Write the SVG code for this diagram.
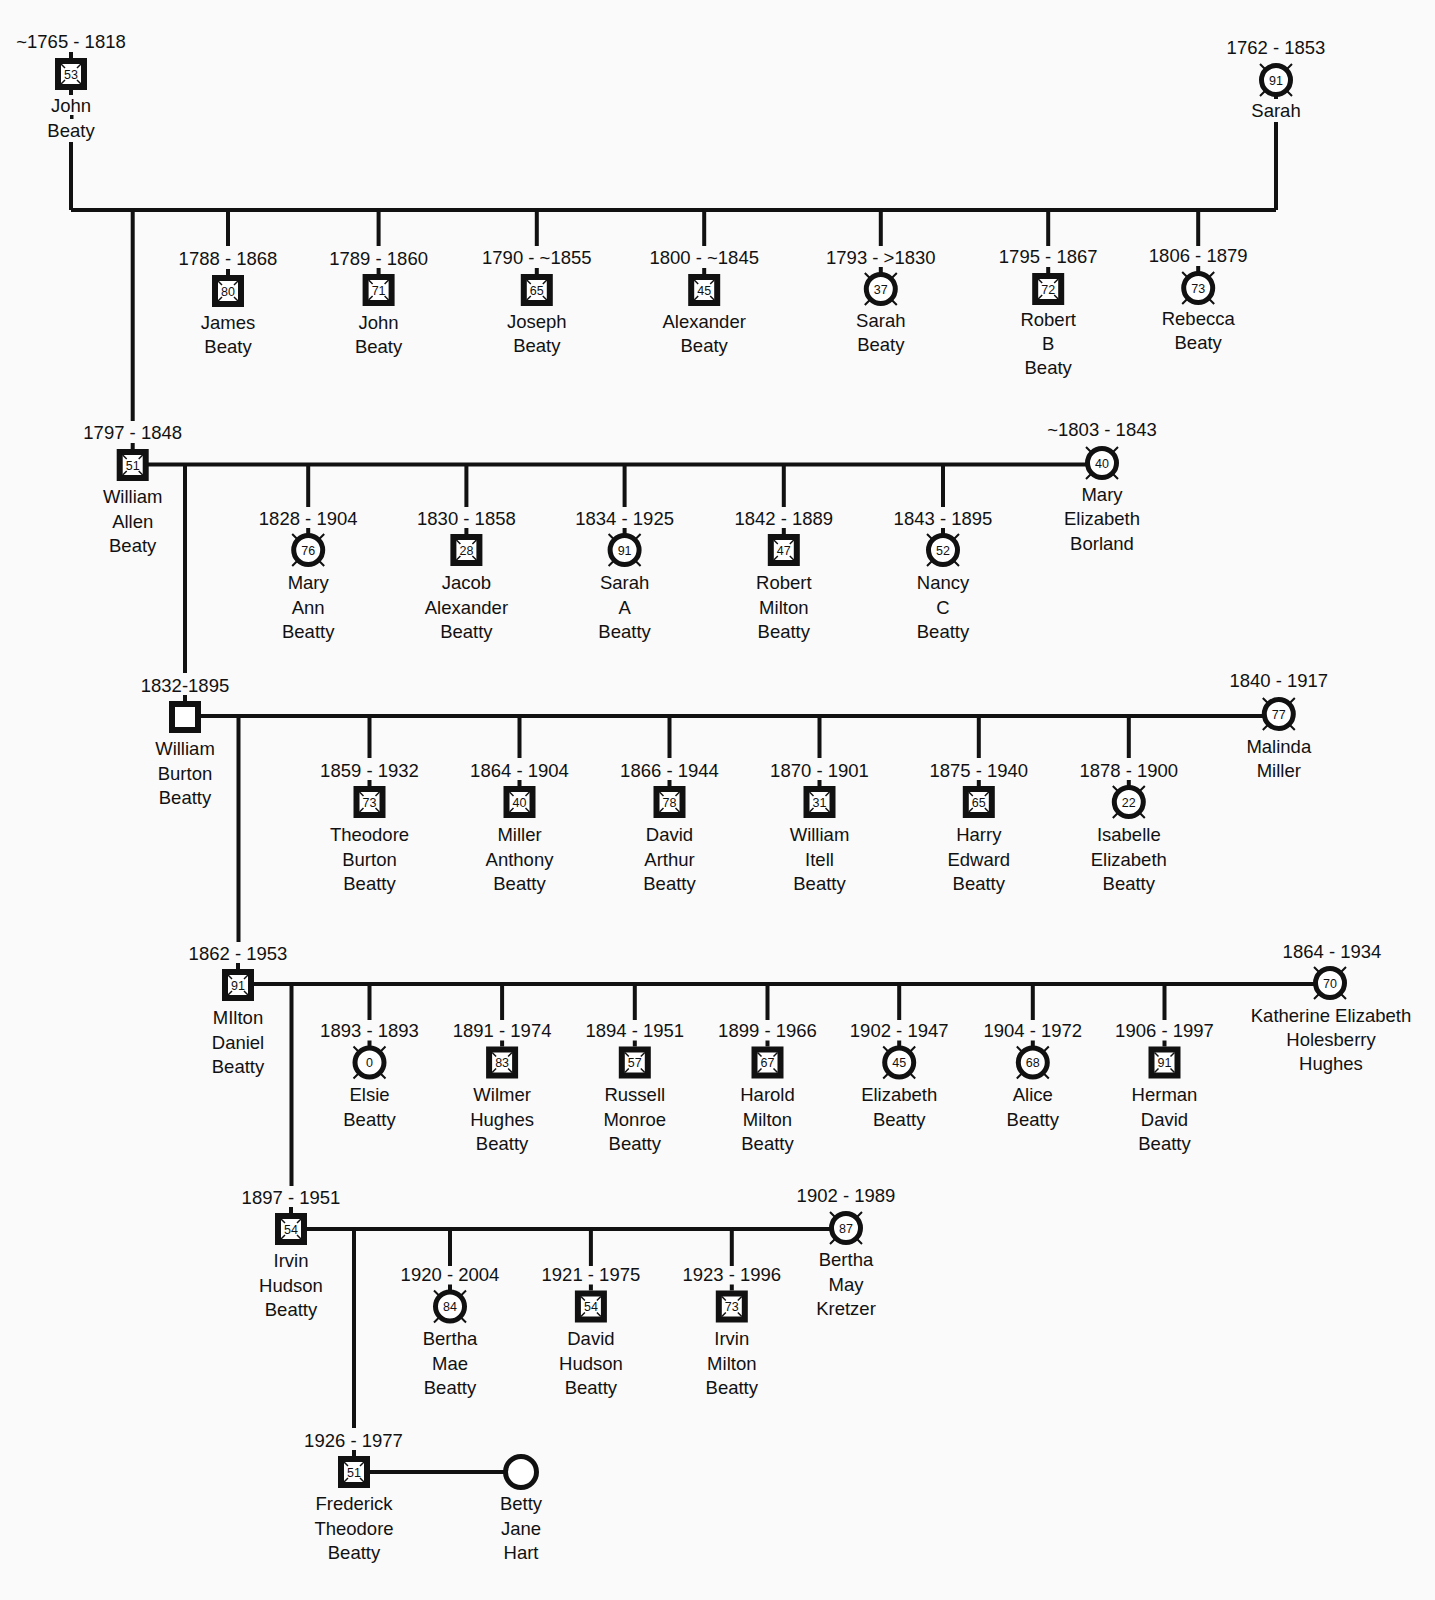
<svg xmlns="http://www.w3.org/2000/svg" xmlns:xlink="http://www.w3.org/1999/xlink" width="1435" height="1600" viewBox="0 0 1435 1600">
<style>
.t{font-family:"Liberation Sans",Arial,sans-serif;font-size:18.5px;text-anchor:middle;fill:#111}
.n{font-family:"Liberation Sans",Arial,sans-serif;font-size:12.5px;text-anchor:middle;fill:#111}
.c{fill:none;stroke:#111;stroke-width:4}
</style>
<defs>
<g id="sq"><rect x="-13" y="-13" width="26" height="26" fill="#fff" stroke="#111" stroke-width="6"/><path d="M-10,-10 l4,4 M10,-10 l-4,4 M-10,10 l4,-4 M10,10 l-4,-4" stroke="#111" stroke-width="1.5"/></g>
<g id="ci"><circle r="14.5" fill="#fff" stroke="#111" stroke-width="5"/><path d="M-16,-16 l7,7 M16,-16 l-7,7 M-16,16 l7,-7 M16,16 l-7,-7" stroke="#111" stroke-width="2"/></g>
<rect id="st" x="-2" y="-22" width="4" height="6" fill="#111"/>
</defs>
<rect width="1435" height="1600" fill="#fafafa"/>
<g id="connectors">
<rect x="70" y="115" width="3.5" height="4" fill="#111"/>
<path class="c" d="M71,142 V210 M71,210 H1276 M1276,122 V210"/>
<path class="c" d="M228,210 V246 M378.6,210 V246 M536.8,210 V246 M704.2,210 V246 M880.8,210 V246 M1048.2,210 V246 M1198.2,210 V246"/>
<path class="c" d="M132.7,210 V421 M132.7,464.5 H1102 M185,464.5 V673"/>
<path class="c" d="M308.2,464.5 V507 M466.4,464.5 V507 M624.6,464.5 V507 M783.8,464.5 V507 M943,464.5 V507"/>
<path class="c" d="M185,716 H1279 M238.5,716 V942"/>
<path class="c" d="M369.5,716 V758 M519.5,716 V758 M669.5,716 V758 M819.5,716 V758 M978.8,716 V758 M1128.8,716 V758"/>
<path class="c" d="M238,984 H1330 M291.5,984 V1186"/>
<path class="c" d="M369.5,984 V1020 M502.1,984 V1020 M634.8,984 V1020 M767.5,984 V1020 M899.2,984 V1020 M1032.8,984 V1020 M1164.5,984 V1020"/>
<path class="c" d="M291,1229 H846 M354,1229 V1428"/>
<path class="c" d="M450,1229 V1266 M590.9,1229 V1266 M731.8,1229 V1266"/>
<path class="c" d="M354,1472 H521"/>
</g>

<g id="john-beaty-1765"><text class="t" x="71" y="48">~1765 - 1818</text><use href="#st" x="71" y="74"/><rect x="69" y="88" width="4" height="7" fill="#111"/><use href="#sq" x="71" y="74"/><text class="n" x="71" y="78.5">53</text><text class="t" x="71" y="112">John</text><text class="t" x="71" y="137">Beaty</text></g>
<g id="sarah-1762"><text class="t" x="1276" y="53.5">1762 - 1853</text><rect x="1274" y="94" width="4" height="5" fill="#111"/><use href="#ci" x="1276" y="80"/><text class="n" x="1276" y="84.5">91</text><text class="t" x="1276" y="117">Sarah</text></g>

<g id="james-beaty"><text class="t" x="228" y="265">1788 - 1868</text><use href="#st" x="228" y="291"/><use href="#sq" x="228" y="291"/><text class="n" x="228" y="295.5">80</text><text class="t" x="228" y="329">James</text><text class="t" x="228" y="353">Beaty</text></g>
<g id="john-beaty"><text class="t" x="378.6" y="265">1789 - 1860</text><use href="#st" x="378.6" y="290"/><use href="#sq" x="378.6" y="290"/><text class="n" x="378.6" y="294.5">71</text><text class="t" x="378.6" y="329">John</text><text class="t" x="378.6" y="353">Beaty</text></g>
<g id="joseph-beaty"><text class="t" x="536.8" y="264">1790 - ~1855</text><use href="#st" x="536.8" y="290"/><use href="#sq" x="536.8" y="290"/><text class="n" x="536.8" y="294.5">65</text><text class="t" x="536.8" y="328">Joseph</text><text class="t" x="536.8" y="352">Beaty</text></g>
<g id="alexander-beaty"><text class="t" x="704.2" y="264">1800 - ~1845</text><use href="#st" x="704.2" y="290"/><use href="#sq" x="704.2" y="290"/><text class="n" x="704.2" y="294.5">45</text><text class="t" x="704.2" y="328">Alexander</text><text class="t" x="704.2" y="352">Beaty</text></g>
<g id="sarah-beaty"><text class="t" x="880.8" y="264">1793 - &gt;1830</text><use href="#st" x="880.8" y="289"/><use href="#ci" x="880.8" y="289"/><text class="n" x="880.8" y="293.5">37</text><text class="t" x="880.8" y="327">Sarah</text><text class="t" x="880.8" y="351">Beaty</text></g>
<g id="robert-b-beaty"><text class="t" x="1048.2" y="263">1795 - 1867</text><use href="#st" x="1048.2" y="289"/><use href="#sq" x="1048.2" y="289"/><text class="n" x="1048.2" y="293.5">72</text><text class="t" x="1048.2" y="326">Robert</text><text class="t" x="1048.2" y="350">B</text><text class="t" x="1048.2" y="374">Beaty</text></g>
<g id="rebecca-beaty"><text class="t" x="1198.2" y="262">1806 - 1879</text><use href="#st" x="1198.2" y="288"/><use href="#ci" x="1198.2" y="288"/><text class="n" x="1198.2" y="292.5">73</text><text class="t" x="1198.2" y="325">Rebecca</text><text class="t" x="1198.2" y="349">Beaty</text></g>

<g id="william-allen-beaty"><text class="t" x="132.7" y="439">1797 - 1848</text><use href="#st" x="132.7" y="465"/><use href="#sq" x="132.7" y="465"/><text class="n" x="132.7" y="469.5">51</text><text class="t" x="132.7" y="503">William</text><text class="t" x="132.7" y="527.5">Allen</text><text class="t" x="132.7" y="552">Beaty</text></g>
<g id="mary-elizabeth-borland"><text class="t" x="1102" y="436">~1803 - 1843</text><use href="#ci" x="1102" y="463"/><text class="n" x="1102" y="467.5">40</text><text class="t" x="1102" y="500.5">Mary</text><text class="t" x="1102" y="525">Elizabeth</text><text class="t" x="1102" y="549.5">Borland</text></g>

<g id="mary-ann-beaty"><text class="t" x="308.2" y="525">1828 - 1904</text><use href="#st" x="308.2" y="550"/><use href="#ci" x="308.2" y="550"/><text class="n" x="308.2" y="554.5">76</text><text class="t" x="308.2" y="589">Mary</text><text class="t" x="308.2" y="613.5">Ann</text><text class="t" x="308.2" y="638">Beatty</text></g>
<g id="jacob-alexander-beaty"><text class="t" x="466.4" y="525">1830 - 1858</text><use href="#st" x="466.4" y="550"/><use href="#sq" x="466.4" y="550"/><text class="n" x="466.4" y="554.5">28</text><text class="t" x="466.4" y="589">Jacob</text><text class="t" x="466.4" y="613.5">Alexander</text><text class="t" x="466.4" y="638">Beatty</text></g>
<g id="sarah-a-beaty"><text class="t" x="624.6" y="525">1834 - 1925</text><use href="#st" x="624.6" y="550"/><use href="#ci" x="624.6" y="550"/><text class="n" x="624.6" y="554.5">91</text><text class="t" x="624.6" y="589">Sarah</text><text class="t" x="624.6" y="613.5">A</text><text class="t" x="624.6" y="638">Beatty</text></g>
<g id="robert-milton-beaty"><text class="t" x="783.8" y="525">1842 - 1889</text><use href="#st" x="783.8" y="550"/><use href="#sq" x="783.8" y="550"/><text class="n" x="783.8" y="554.5">47</text><text class="t" x="783.8" y="589">Robert</text><text class="t" x="783.8" y="613.5">Milton</text><text class="t" x="783.8" y="638">Beatty</text></g>
<g id="nancy-c-beaty"><text class="t" x="943" y="525">1843 - 1895</text><use href="#st" x="943" y="550"/><use href="#ci" x="943" y="550"/><text class="n" x="943" y="554.5">52</text><text class="t" x="943" y="589">Nancy</text><text class="t" x="943" y="613.5">C</text><text class="t" x="943" y="638">Beatty</text></g>

<g id="william-burton-beatty"><text class="t" x="185" y="691.5">1832-1895</text><use href="#st" x="185" y="717"/><rect x="172" y="704" width="26" height="26" fill="#fff" stroke="#111" stroke-width="6"/><text class="t" x="185" y="755">William</text><text class="t" x="185" y="779.5">Burton</text><text class="t" x="185" y="804">Beatty</text></g>
<g id="malinda-miller"><text class="t" x="1278.8" y="687">1840 - 1917</text><use href="#ci" x="1278.8" y="714"/><text class="n" x="1278.8" y="718.5">77</text><text class="t" x="1278.8" y="752.5">Malinda</text><text class="t" x="1278.8" y="777">Miller</text></g>

<g id="theodore-burton-beatty"><text class="t" x="369.5" y="777">1859 - 1932</text><use href="#st" x="369.5" y="802"/><use href="#sq" x="369.5" y="802"/><text class="n" x="369.5" y="806.5">73</text><text class="t" x="369.5" y="841">Theodore</text><text class="t" x="369.5" y="865.5">Burton</text><text class="t" x="369.5" y="890">Beatty</text></g>
<g id="miller-anthony-beatty"><text class="t" x="519.5" y="777">1864 - 1904</text><use href="#st" x="519.5" y="802"/><use href="#sq" x="519.5" y="802"/><text class="n" x="519.5" y="806.5">40</text><text class="t" x="519.5" y="841">Miller</text><text class="t" x="519.5" y="865.5">Anthony</text><text class="t" x="519.5" y="890">Beatty</text></g>
<g id="david-arthur-beatty"><text class="t" x="669.5" y="777">1866 - 1944</text><use href="#st" x="669.5" y="802"/><use href="#sq" x="669.5" y="802"/><text class="n" x="669.5" y="806.5">78</text><text class="t" x="669.5" y="841">David</text><text class="t" x="669.5" y="865.5">Arthur</text><text class="t" x="669.5" y="890">Beatty</text></g>
<g id="william-itell-beatty"><text class="t" x="819.5" y="777">1870 - 1901</text><use href="#st" x="819.5" y="802"/><use href="#sq" x="819.5" y="802"/><text class="n" x="819.5" y="806.5">31</text><text class="t" x="819.5" y="841">William</text><text class="t" x="819.5" y="865.5">Itell</text><text class="t" x="819.5" y="890">Beatty</text></g>
<g id="harry-edward-beatty"><text class="t" x="978.8" y="777">1875 - 1940</text><use href="#st" x="978.8" y="802"/><use href="#sq" x="978.8" y="802"/><text class="n" x="978.8" y="806.5">65</text><text class="t" x="978.8" y="841">Harry</text><text class="t" x="978.8" y="865.5">Edward</text><text class="t" x="978.8" y="890">Beatty</text></g>
<g id="isabelle-elizabeth-beatty"><text class="t" x="1128.8" y="777">1878 - 1900</text><use href="#st" x="1128.8" y="802"/><use href="#ci" x="1128.8" y="802"/><text class="n" x="1128.8" y="806.5">22</text><text class="t" x="1128.8" y="841">Isabelle</text><text class="t" x="1128.8" y="865.5">Elizabeth</text><text class="t" x="1128.8" y="890">Beatty</text></g>

<g id="milton-daniel-beatty"><text class="t" x="238" y="959.5">1862 - 1953</text><use href="#st" x="238" y="985"/><use href="#sq" x="238" y="985"/><text class="n" x="238" y="989.5">91</text><text class="t" x="238" y="1024">MIlton</text><text class="t" x="238" y="1048.5">Daniel</text><text class="t" x="238" y="1073">Beatty</text></g>
<g id="katherine-elizabeth-holesberry-hughes"><text class="t" x="1332" y="958">1864 - 1934</text><use href="#ci" x="1330" y="983"/><text class="n" x="1330" y="987.5">70</text><text class="t" x="1331" y="1021.5">Katherine Elizabeth</text><text class="t" x="1331" y="1045.5">Holesberry</text><text class="t" x="1331" y="1069.5">Hughes</text></g>

<g id="elsie-beatty"><text class="t" x="369.5" y="1037">1893 - 1893</text><use href="#st" x="369.5" y="1062.5"/><use href="#ci" x="369.5" y="1062.5"/><text class="n" x="369.5" y="1067">0</text><text class="t" x="369.5" y="1101">Elsie</text><text class="t" x="369.5" y="1125.5">Beatty</text></g>
<g id="wilmer-hughes-beatty"><text class="t" x="502.1" y="1037">1891 - 1974</text><use href="#st" x="502.1" y="1062.5"/><use href="#sq" x="502.1" y="1062.5"/><text class="n" x="502.1" y="1067">83</text><text class="t" x="502.1" y="1101">Wilmer</text><text class="t" x="502.1" y="1125.5">Hughes</text><text class="t" x="502.1" y="1150">Beatty</text></g>
<g id="russell-monroe-beatty"><text class="t" x="634.8" y="1037">1894 - 1951</text><use href="#st" x="634.8" y="1062.5"/><use href="#sq" x="634.8" y="1062.5"/><text class="n" x="634.8" y="1067">57</text><text class="t" x="634.8" y="1101">Russell</text><text class="t" x="634.8" y="1125.5">Monroe</text><text class="t" x="634.8" y="1150">Beatty</text></g>
<g id="harold-milton-beatty"><text class="t" x="767.5" y="1037">1899 - 1966</text><use href="#st" x="767.5" y="1062.5"/><use href="#sq" x="767.5" y="1062.5"/><text class="n" x="767.5" y="1067">67</text><text class="t" x="767.5" y="1101">Harold</text><text class="t" x="767.5" y="1125.5">Milton</text><text class="t" x="767.5" y="1150">Beatty</text></g>
<g id="elizabeth-beatty"><text class="t" x="899.2" y="1037">1902 - 1947</text><use href="#st" x="899.2" y="1062.5"/><use href="#ci" x="899.2" y="1062.5"/><text class="n" x="899.2" y="1067">45</text><text class="t" x="899.2" y="1101">Elizabeth</text><text class="t" x="899.2" y="1125.5">Beatty</text></g>
<g id="alice-beatty"><text class="t" x="1032.8" y="1037">1904 - 1972</text><use href="#st" x="1032.8" y="1062.5"/><use href="#ci" x="1032.8" y="1062.5"/><text class="n" x="1032.8" y="1067">68</text><text class="t" x="1032.8" y="1101">Alice</text><text class="t" x="1032.8" y="1125.5">Beatty</text></g>
<g id="herman-david-beatty"><text class="t" x="1164.5" y="1037">1906 - 1997</text><use href="#st" x="1164.5" y="1062.5"/><use href="#sq" x="1164.5" y="1062.5"/><text class="n" x="1164.5" y="1067">91</text><text class="t" x="1164.5" y="1101">Herman</text><text class="t" x="1164.5" y="1125.5">David</text><text class="t" x="1164.5" y="1150">Beatty</text></g>

<g id="irvin-hudson-beatty"><text class="t" x="291" y="1203.5">1897 - 1951</text><use href="#st" x="291" y="1229"/><use href="#sq" x="291" y="1229"/><text class="n" x="291" y="1233.5">54</text><text class="t" x="291" y="1267">Irvin</text><text class="t" x="291" y="1291.5">Hudson</text><text class="t" x="291" y="1316">Beatty</text></g>
<g id="bertha-may-kretzer"><text class="t" x="846" y="1201.5">1902 - 1989</text><use href="#ci" x="846" y="1228"/><text class="n" x="846" y="1232.5">87</text><text class="t" x="846" y="1266">Bertha</text><text class="t" x="846" y="1290.5">May</text><text class="t" x="846" y="1315">Kretzer</text></g>

<g id="bertha-mae-beatty"><text class="t" x="450" y="1281">1920 - 2004</text><use href="#st" x="450" y="1306.5"/><use href="#ci" x="450" y="1306.5"/><text class="n" x="450" y="1311">84</text><text class="t" x="450" y="1345">Bertha</text><text class="t" x="450" y="1369.5">Mae</text><text class="t" x="450" y="1394">Beatty</text></g>
<g id="david-hudson-beatty"><text class="t" x="590.9" y="1281">1921 - 1975</text><use href="#st" x="590.9" y="1306.5"/><use href="#sq" x="590.9" y="1306.5"/><text class="n" x="590.9" y="1311">54</text><text class="t" x="590.9" y="1345">David</text><text class="t" x="590.9" y="1369.5">Hudson</text><text class="t" x="590.9" y="1394">Beatty</text></g>
<g id="irvin-milton-beatty"><text class="t" x="731.8" y="1281">1923 - 1996</text><use href="#st" x="731.8" y="1306.5"/><use href="#sq" x="731.8" y="1306.5"/><text class="n" x="731.8" y="1311">73</text><text class="t" x="731.8" y="1345">Irvin</text><text class="t" x="731.8" y="1369.5">Milton</text><text class="t" x="731.8" y="1394">Beatty</text></g>

<g id="frederick-theodore-beatty"><text class="t" x="353.5" y="1446.5">1926 - 1977</text><use href="#st" x="354" y="1472"/><use href="#sq" x="354" y="1472"/><text class="n" x="354" y="1476.5">51</text><text class="t" x="354" y="1510">Frederick</text><text class="t" x="354" y="1534.5">Theodore</text><text class="t" x="354" y="1559">Beatty</text></g>
<g id="betty-jane-hart"><circle cx="521" cy="1472" r="15.5" fill="#fff" stroke="#111" stroke-width="5"/><text class="t" x="521" y="1510">Betty</text><text class="t" x="521" y="1534.5">Jane</text><text class="t" x="521" y="1559">Hart</text></g>
</svg>
